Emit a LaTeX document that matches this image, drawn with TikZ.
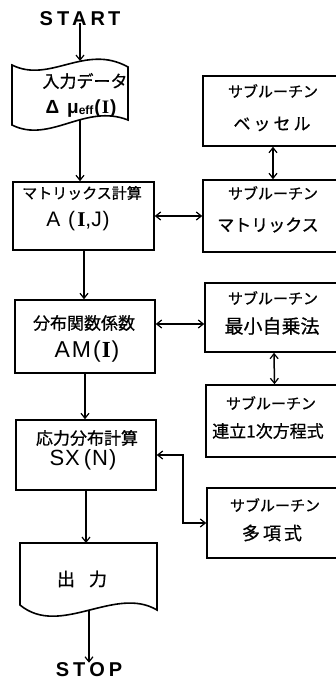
\documentclass[tikz,border=0pt]{standalone}
\usepackage{fontspec}
\setmainfont{Noto Sans CJK JP}[FakeBold=0.8]
\newfontfamily\lat{Liberation Sans}
\newfontfamily\ser{Liberation Serif}
\usetikzlibrary{arrows.meta}
\newcommand\RI{{\ser\bfseries I}}
\begin{document}
\begin{tikzpicture}[x=1pt,y=-1pt,
  box/.style={draw, line width=1.6pt, rectangle, inner sep=0pt},
  lab/.style={inner sep=0pt, anchor=center},
  jp/.style={font=\fontsize{15}{15}\selectfont},
  jpl/.style={font=\fontsize{17}{17}\selectfont},
  ltx/.style={font=\fontsize{21}{21}\selectfont\lat},
  tip/.tip={Straight Barb[length=5pt,width=8pt,line width=1.2pt]},
  conn/.style={line width=1.5pt, -tip},
  dconn/.style={line width=1.5pt, tip-tip},
]
\useasboundingbox (0,0) rectangle (336,680);
\clip (0,0) rectangle (336,680);

% start / stop
\node[lab, font=\fontsize{20}{20}\selectfont\lat\bfseries] (start) at (80,19) {S\kern4pt T\kern3pt A\kern4pt R\kern3pt T};
\node[lab, font=\fontsize{20}{20}\selectfont\lat\bfseries] (stop) at (89,670) {S\kern4pt T\kern4pt O\kern4pt P};

% input (wavy)
\draw[line width=1.6pt] (12,65) .. controls (50,84) and (85,43) .. (128,67) -- (128,120)
  .. controls (85,103) and (50,144) .. (12,125) -- cycle;
\coordinate (inTop) at (80,61);
\coordinate (inBot) at (80,120);
\node[lab, jpl] (inT1) at (85,81) {入力データ};
\node[lab, font=\fontsize{19}{19}\selectfont\lat\bfseries] (inT2) at (81,109)
  {Δ\kern8pt μ{\fontsize{12}{12}\selectfont\raisebox{-1pt}{eff}}\kern1pt(\kern1pt\RI\kern1pt)};

% left boxes
\node[box, minimum width=141pt, minimum height=68pt] (mat) at (83.5,216) {};
\node[lab, jp] (matT1) at (82,193) {マトリックス計算};
\node[lab, ltx] (matT2) at (78,221) {A\kern8pt(\kern2pt\RI,J\kern1pt)};

\node[box, minimum width=140pt, minimum height=73pt] (dist) at (85,336.5) {};
\node[lab, jpl] (distT1) at (84,323) {分布関数係数};
\node[lab, font=\fontsize{23}{23}\selectfont\lat] (distT2) at (87,352) {A\kern2pt M\kern2pt(\kern1pt\RI\kern1pt)};

\node[box, minimum width=140pt, minimum height=70pt] (stress) at (86,455) {};
\node[lab, jpl] (stressT1) at (87,438) {応力分布計算};
\node[lab, font=\fontsize{22}{22}\selectfont\lat] (stressT2) at (83,460) {S\kern1pt X\kern4pt(\kern1pt N\kern1pt)};

% output (document)
\draw[line width=1.6pt] (20,543) -- (157,543) -- (157,610)
  .. controls (115,585) and (60,638) .. (20,605) -- cycle;
\coordinate (outTop) at (88,543);
\coordinate (outBot) at (89,611);
\node[lab, font=\fontsize{18}{18}\selectfont] (outT) at (82,579) {出\kern14pt 力};

% right boxes
\node[box, minimum width=140pt, minimum height=70pt] (bes) at (273,111) {};
\node[lab, jp] (besT1) at (273,91) {サブルーチン};
\node[lab, jpl] (besT2) at (272,124) {ベ\kern3pt ッ\kern3pt セ\kern3pt ル};

\node[box, minimum width=140pt, minimum height=72pt] (smat) at (273,216) {};
\node[lab, jp] (smatT1) at (273,193) {サブルーチン};
\node[lab, jpl] (smatT2) at (268,225) {マトリックス};

\node[box, minimum width=138pt, minimum height=69pt] (lsq) at (274,317.5) {};
\node[lab, jp] (lsqT1) at (273,298) {サブルーチン};
\node[lab, font=\fontsize{19}{19}\selectfont] (lsqT2) at (272,326) {最小自乗法};

\node[box, minimum width=137pt, minimum height=72pt] (lin) at (274.5,421) {};
\node[lab, jp] (linT1) at (271,403) {サブルーチン};
\node[lab, jpl] (linT2) at (268,431) {連立1次方程式};

\node[box, minimum width=136pt, minimum height=70pt] (poly) at (275,523) {};
\node[lab, jp] (polyT1) at (275,505) {サブルーチン};
\node[lab, font=\fontsize{18}{18}\selectfont] (polyT2) at (272,533) {多\kern3pt 項\kern3pt 式};

% main flow
\draw[conn] (start.south) ++(0,-3) coordinate (st) (st) -- (inTop);
\draw[conn] (inBot) -- (inBot |- mat.north);
\draw[conn] (mat.south) ++(0.5,0) coordinate (ms) (ms) -- (ms |- dist.north);
\draw[conn] (dist.south) -- (dist.south |- stress.north);
\draw[conn] (stress.south) -- (stress.south |- outTop);
\draw[conn] (outBot) -- (stop.north);

% subroutine links
\draw[dconn] (bes.south) -- (smat.north);
\draw[dconn] (mat.east) -- (smat.west);
\coordinate (dA) at ([yshift=12.5pt]dist.east);
\draw[dconn] (dA) -- (dA -| lsq.west);
\draw[dconn] (lsq.south) -- (lin.north);
\draw[dconn] (stress.east) -- ++(26,0) |- (poly.west);
\end{tikzpicture}
\end{document}
